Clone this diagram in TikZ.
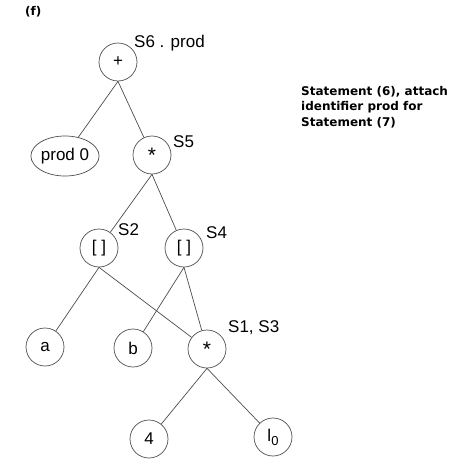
\documentclass[tikz,border=0pt]{standalone}
\usepackage{fontspec}
\setmainfont{Liberation Sans}
\newfontfamily\notefont{DejaVu Sans}
\usetikzlibrary{shapes, positioning}
\tikzstyle{opnode}=[shape=circle,draw=black!70,line width=0.7pt,minimum size=38pt,inner sep=0pt,font=\fontsize{17}{20}\selectfont]
\tikzstyle{varnode}=[shape=ellipse,draw=black!70,line width=0.7pt,minimum width=65pt,minimum height=40pt,inner sep=0pt,font=\fontsize{17}{20}\selectfont]
\tikzstyle{treeedge}=[draw=black!70,line width=0.7pt]
\tikzstyle{tag}=[anchor=west,inner sep=0pt,font=\fontsize{17}{20}\selectfont]
\newcommand{\lowstar}{\raisebox{-0.5ex}{\fontsize{21}{24}\selectfont *}}

\begin{document}
\begin{tikzpicture}[x=1pt,y=-1pt]
\useasboundingbox (0,0) rectangle (474,466);
\node[anchor=west,inner sep=0pt,font=\notefont\bfseries\fontsize{12}{14}\selectfont] (title) at (25,12) {(f)};

% root
\node[opnode] (plus) at (118,62) {+};

% 2nd level
\node[varnode] (prod) at (65,156) {prod 0} edge[treeedge] (plus.south);
\node[opnode] (mulS5) at (152,155) {\lowstar} edge[treeedge] (plus.south);

% 3rd level
\node[opnode] (idxS2) at (99,248) {[ ]} edge[treeedge] (mulS5.south);
\node[opnode] (idxS4) at (184,248) {[ ]} edge[treeedge] (mulS5.south);

% 4th level
\node[opnode] (a) at (45,347) {a} edge[treeedge] (idxS2.south);
\node[opnode] (b) at (133,348) {b} edge[treeedge] (idxS4.south);
\node[opnode] (mulS1) at (207,349) {\lowstar} edge[treeedge] (idxS2.south) edge[treeedge] (idxS4.south);

% leaves
\node[opnode] (four) at (149,439) {4} edge[treeedge] (mulS1.south);
\node[opnode] (ell) at (273,437) {l\raisebox{-0.45ex}{\fontsize{13}{15}\selectfont 0}} edge[treeedge] (mulS1.south);

% statement tags
\node[tag] (tagS6) at (134,43) {S6 . prod};
\node[tag] (tagS5) at (173,142) {S5};
\node[tag] (tagS2) at (118,230) {S2};
\node[tag] (tagS4) at (206,233) {S4};
\node[tag] (tagS1) at (228,328) {S1, S3};

\node[anchor=north west,inner sep=0pt,align=left,font=\notefont\bfseries\fontsize{12}{15.5}\selectfont] (note) at (301,86) {Statement (6), attach\\identifier prod for\\Statement (7)};

\end{tikzpicture}
\end{document}
